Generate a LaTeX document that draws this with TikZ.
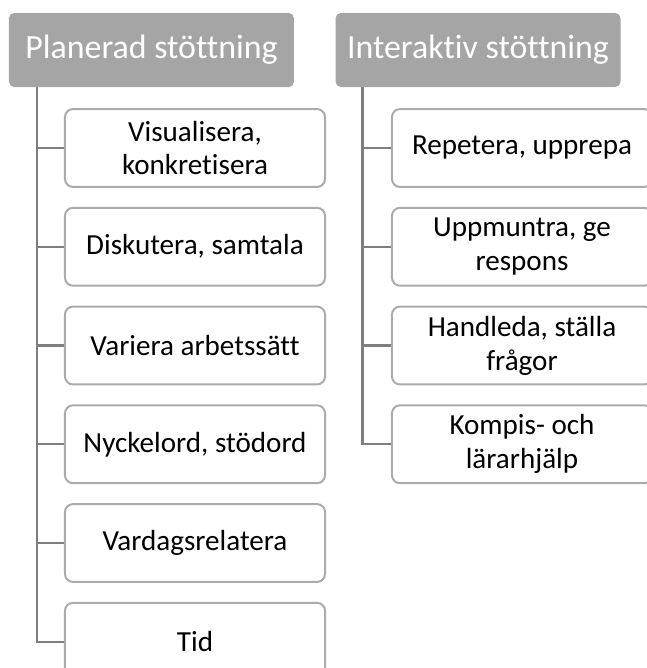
\documentclass[tikz,border=0pt]{standalone}
\usepackage{fontspec}
\setmainfont{Carlito}[RawFeature={-liga;-clig;-calt;-dlig}]
\usepackage{xcolor}
\definecolor{Silver Gray}{HTML}{A5A5A5}
\definecolor{Slate Gray}{HTML}{7F7F7F}
\definecolor{Cloud Gray}{HTML}{ABABAB}
\colorlet{cHead}{Silver Gray}
\colorlet{cLine}{Slate Gray}
\colorlet{cBorder}{Cloud Gray}
\usepackage{tikz}
\usetikzlibrary{calc, positioning}
\tikzset{
	node distance = .5cm,
	line width = .75pt,
	head/.style={
		fill=cHead,
		text=white,
		rounded corners=4pt,
		minimum width=7.54cm,
		minimum height=1.96cm,
		inner sep=2pt,
		font=\fontsize{25.5}{30}\selectfont
	},
	item/.style={
		draw=cBorder,
		fill=white,
		line width=1.5pt,
		rounded corners=6pt,
		align=center,
		minimum width=6.88cm,
		minimum height=2.06cm,
		inner sep=2pt,
		font=\fontsize{21.9}{25.5}\selectfont
	},
	link/.style={
		draw=cLine,
		line width=1.7pt
	}
}
\begin{document}
\begin{tikzpicture}
		\useasboundingbox (0,0) rectangle (17.092,-17.674);

		\node[head] (plan) at (4.008,-1.323) {Planerad stöttning};
		\node[head] (inter) at (12.647,-1.323) {Interaktiv stöttning};

		\coordinate (pt) at ($(plan.south west)+(.75,0)$);
		\coordinate (it) at ($(inter.south west)+(.72,0)$);

		\node[item] (p1) at (5.159,-3.916) {Visualisera,\\konkretisera};
		\node[item, below=of p1] (p2) {Diskutera, samtala};
		\node[item, below=of p2] (p3) {Variera arbetssätt};
		\node[item, below=of p3] (p4) {Nyckelord, stödord};
		\node[item, below=of p4] (p5) {Vardagsrelatera};
		\node[item, below=of p5] (p6) {Tid};

		\node[item] (i1) at (13.811,-3.916) {Repetera, upprepa};
		\node[item, below=of i1] (i2) {Uppmuntra, ge\\respons};
		\node[item, below=of i2] (i3) {Handleda, ställa\\frågor};
		\node[item, below=of i3] (i4) {Kompis- och\\lärarhjälp};

		\draw[link] (pt) |- (p1.west);
		\draw[link] (pt) |- (p2.west);
		\draw[link] (pt) |- (p3.west);
		\draw[link] (pt) |- (p4.west);
		\draw[link] (pt) |- (p5.west);
		\draw[link] (pt) |- (p6.west);

		\draw[link] (it) |- (i1.west);
		\draw[link] (it) |- (i2.west);
		\draw[link] (it) |- (i3.west);
		\draw[link] (it) |- (i4.west);
	\end{tikzpicture}
\end{document}
